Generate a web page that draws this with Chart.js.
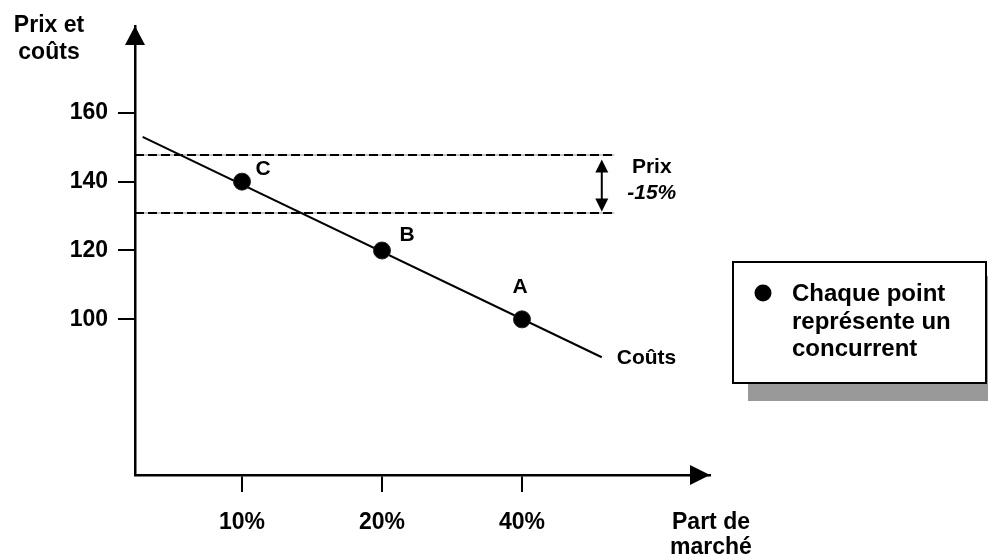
<!DOCTYPE html>
<html>
<head>
<meta charset="utf-8">
<script src="https://cdn.jsdelivr.net/npm/chart.js@4/dist/chart.umd.min.js"></script>
<style>
  html, body { margin: 0; padding: 0; background: #fff; }
  #wrap { width: 988px; height: 559px; }
</style>
</head>
<body>
<div id="wrap"><canvas id="c" width="988" height="559"></canvas></div>
<script>
// Market share categories (placed at 1, 2, 3 on a linear axis)
const shareLabels = ['10%', '20%', '40%'];
const sharePos = [1, 2, 3];
// Competitors and their unit cost
const competitorNames = ['C', 'B', 'A'];
const competitorCost = [140, 120, 100];
// Price/cost axis tick values
const yTickValues = [100, 120, 140, 160];
// Cost curve end points
const costLineX = [0.29, 3.57];
const costLineY = [153, 89];
// Price before / after the 15% drop
const priceLevels = [147.7, 130.9];
const priceBandX = [0.2357, 3.66];
const priceArrowAt = 3.57;
const priceArrowEnds = [146.4, 131.3];

const FONT = '"Liberation Sans", Arial, Helvetica, sans-serif';
Chart.defaults.font.family = FONT;
Chart.defaults.color = '#000';

function tri(ctx, x1, y1, x2, y2, x3, y3) {
  ctx.beginPath();
  ctx.moveTo(x1, y1); ctx.lineTo(x2, y2); ctx.lineTo(x3, y3);
  ctx.closePath(); ctx.fill();
}

const annotations = {
  id: 'annotations',
  afterDatasetsDraw(chart) {
    const { ctx, chartArea: a, scales: { x, y } } = chart;
    ctx.save();
    ctx.fillStyle = '#000';
    ctx.strokeStyle = '#000';

    // axis arrowheads
    tri(ctx, a.left, a.top, a.left - 10, a.top + 19, a.left + 10, a.top + 19);
    tri(ctx, a.right, a.bottom, a.right - 20, a.bottom - 10, a.right - 20, a.bottom + 10);

    // double arrow for the price drop
    const px = x.getPixelForValue(priceArrowAt);
    const yTop = y.getPixelForValue(priceArrowEnds[0]);
    const yBot = y.getPixelForValue(priceArrowEnds[1]);
    ctx.lineWidth = 2;
    ctx.beginPath();
    ctx.moveTo(px, yTop + 8); ctx.lineTo(px, yBot - 8);
    ctx.stroke();
    tri(ctx, px, yTop, px - 6.5, yTop + 13, px + 6.5, yTop + 13);
    tri(ctx, px, yBot, px - 6.5, yBot - 13, px + 6.5, yBot - 13);

    // price labels
    ctx.textAlign = 'center';
    ctx.textBaseline = 'middle';
    ctx.font = 'bold 21px ' + FONT;
    ctx.fillText('Prix', px + 50, y.getPixelForValue(priceLevels[0]) + 12);
    ctx.font = 'italic bold 21px ' + FONT;
    ctx.fillText('-15%', px + 50, y.getPixelForValue(priceLevels[1]) - 20);

    // competitor labels
    ctx.font = 'bold 21px ' + FONT;
    const offs = [[21, -12], [25, -15], [-2, -32]];
    competitorNames.forEach((n, i) => {
      const cx = x.getPixelForValue(sharePos[i]);
      const cy = y.getPixelForValue(competitorCost[i]);
      ctx.fillText(n, cx + offs[i][0], cy + offs[i][1]);
    });

    // cost curve label
    ctx.textAlign = 'left';
    ctx.fillText('Coûts', x.getPixelForValue(costLineX[1]) + 15, y.getPixelForValue(costLineY[1]) + 1);

    // axis titles
    ctx.textAlign = 'center';
    ctx.font = 'bold 23px ' + FONT;
    ctx.fillText('Prix et', 49, 26);
    ctx.fillText('coûts', 49, 53);
    ctx.fillText('Part de', a.right + 1, 523);
    ctx.fillText('marché', a.right + 1, 548);

    // key box with shadow
    ctx.fillStyle = '#999';
    ctx.fillRect(748, 276, 260, 125);
    ctx.fillStyle = '#fff';
    ctx.fillRect(733, 262, 253, 121);
    ctx.lineWidth = 2;
    ctx.strokeRect(733, 262, 253, 121);
    ctx.fillStyle = '#000';
    ctx.beginPath();
    ctx.arc(763, 293, 8.5, 0, Math.PI * 2);
    ctx.fill();
    ctx.textAlign = 'left';
    ctx.font = 'bold 24px ' + FONT;
    ctx.fillText('Chaque point', 792, 294);
    ctx.fillText('représente un', 792, 322);
    ctx.fillText('concurrent', 792, 349);

    ctx.restore();
  }
};

const bandGrey = priceLevels.map(v => ({
  data: priceBandX.map(xv => ({ x: xv, y: v })),
  borderColor: '#c8c8c8', borderWidth: 2, pointRadius: 0, showLine: true, order: 4
}));
const bandDash = priceLevels.map(v => ({
  data: priceBandX.map(xv => ({ x: xv, y: v })),
  borderColor: '#000', borderWidth: 2, borderDash: [9, 4], pointRadius: 0, showLine: true, order: 3
}));

new Chart(document.getElementById('c'), {
  type: 'scatter',
  data: {
    datasets: [
      {
        data: sharePos.map((xv, i) => ({ x: xv, y: competitorCost[i] })),
        backgroundColor: '#000', borderColor: '#222', borderWidth: 1,
        pointRadius: 8.5, showLine: false, order: 0
      },
      {
        data: costLineX.map((xv, i) => ({ x: xv, y: costLineY[i] })),
        borderColor: '#000', borderWidth: 2, pointRadius: 0, showLine: true, order: 1
      },
      ...bandDash,
      ...bandGrey
    ]
  },
  options: {
    responsive: false,
    animation: false,
    events: [],
    layout: { padding: { top: 26, right: 278, left: 0, bottom: 0 } },
    plugins: { legend: { display: false }, tooltip: { enabled: false } },
    scales: {
      x: {
        type: 'linear', position: 'bottom', min: 0.2357, max: 4.343,
        afterBuildTicks: s => { s.ticks = sharePos.map(v => ({ value: v })); },
        afterFit: s => { s.height = 84; },
        ticks: {
          callback: (v, i) => shareLabels[i],
          font: { size: 23, weight: 'bold' }, padding: 17,
          maxRotation: 0, autoSkip: false, color: '#000'
        },
        grid: { drawOnChartArea: false, drawTicks: true, tickLength: 17, color: '#000', lineWidth: 2 },
        border: { display: true, color: '#000', width: 2.5 }
      },
      y: {
        type: 'linear', position: 'left', min: 54.8, max: 185.2,
        afterBuildTicks: s => { s.ticks = yTickValues.map(v => ({ value: v })); },
        afterFit: s => { s.width = 135; },
        ticks: { font: { size: 23, weight: 'bold' }, padding: 10, color: '#000' },
        grid: { drawOnChartArea: false, drawTicks: true, tickLength: 17, color: '#000', lineWidth: 2 },
        border: { display: true, color: '#000', width: 2.5 }
      }
    }
  },
  plugins: [annotations]
});
</script>
</body>
</html>
